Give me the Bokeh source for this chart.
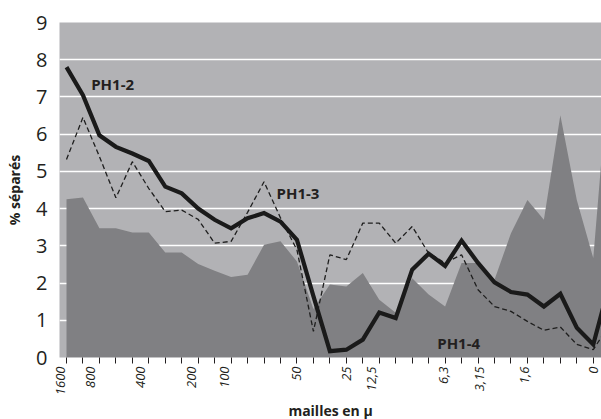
import math
from bokeh.plotting import figure
from bokeh.models import FixedTicker, Range1d, ColumnDataSource, Title
from bokeh.embed import file_html
from bokeh.resources import INLINE
from bokeh.core.properties import value

# ---- data ----
idx = list(range(34))
ph1_2 = [7.80, 7.05, 5.97, 5.66, 5.48, 5.28, 4.59, 4.41, 4.00, 3.70, 3.47, 3.74,
         3.88, 3.65, 3.16, 1.65, 0.17, 0.21, 0.48, 1.21, 1.06, 2.36, 2.79, 2.46,
         3.14, 2.54, 2.02, 1.76, 1.69, 1.37, 1.71, 0.80, 0.35, 2.00]
ph1_3 = [5.32, 6.45, 5.40, 4.29, 5.26, 4.54, 3.92, 3.96, 3.71, 3.07, 3.12, 3.90,
         4.72, 3.75, 2.89, 0.70, 2.76, 2.63, 3.61, 3.61, 3.07, 3.52, 2.80, 2.54,
         2.76, 1.82, 1.37, 1.24, 0.97, 0.73, 0.82, 0.35, 0.21, 0.90]
ph1_4 = [4.25, 4.30, 3.47, 3.47, 3.36, 3.36, 2.82, 2.82, 2.51, 2.33, 2.16, 2.22,
         3.03, 3.12, 2.58, 1.30, 1.96, 1.91, 2.27, 1.55, 1.20, 2.13, 1.69, 1.37,
         2.54, 2.54, 2.09, 3.34, 4.23, 3.70, 6.51, 4.23, 2.67, 8.00]

tick_pos = [-0.38, 1.45, 4.5, 7.6, 9.6, 14, 17, 18.5, 22.9, 25.1, 27.8, 32]
tick_labels = ["1600", "800", "400", "200", "100", "50", "25", "12,5",
               "6,3", "3,15", "1,6", "0"]

series_names = ["PH1-2", "PH1-3", "PH1-4"]
name_x = [1.5, 12.76, 22.52]
name_y = [7.36, 4.41, 0.39]

x_title = "mailles en µ"
y_title = "% séparés"

FONT = "Open Sans"
TXT = "#231f20"

src = ColumnDataSource(dict(x=idx, a=ph1_2, b=ph1_3, c=ph1_4))

p = figure(width=601, height=419, output_backend="svg", toolbar_location=None,
           x_range=Range1d(-0.425, 32.5), y_range=Range1d(0, 9),
           min_border_top=22, min_border_right=0, min_border_left=59,
           min_border_bottom=61)
p.outline_line_color = None
p.background_fill_color = "#b2b2b5"
p.border_fill_color = "white"

# area
p.varea(x="x", y1=0, y2="c", source=src, fill_color="#808083")
# dashed line
p.line(x="x", y="b", source=src, line_color="#1e1e1e", line_width=1.3,
       line_dash="5 3")
# thick line
p.line(x="x", y="a", source=src, line_color="#1a1a1a", line_width=4.2,
       line_join="miter")

p.text(x=name_x, y=name_y, text=series_names, text_font=value(FONT),
       text_font_style="bold", text_font_size="15px", text_color=TXT,
       text_baseline="alphabetic", text_align="left")

# grid
p.xgrid.visible = False
p.ygrid.ticker = FixedTicker(ticks=[1, 2, 3, 4, 5, 6, 7, 8])
p.ygrid.grid_line_color = "white"
p.ygrid.grid_line_width = 1.5

# y axis
ya = p.yaxis[0]
ya.ticker = FixedTicker(ticks=list(range(10)))
ya.axis_line_color = None
ya.major_tick_line_color = None
ya.minor_tick_line_color = None
ya.major_tick_out = 0
ya.major_tick_in = 0
ya.major_label_standoff = 12
ya.major_label_text_font = FONT
ya.major_label_text_font_size = "20px"
ya.major_label_text_color = TXT
ya.axis_label = y_title
ya.axis_label_text_font = FONT
ya.axis_label_text_font_style = "bold"
ya.axis_label_text_font_size = "14px"
ya.axis_label_text_color = TXT
ya.axis_label_standoff = 9

# x axis
xa = p.xaxis[0]
xa.ticker = FixedTicker(ticks=tick_pos, minor_ticks=idx)
xa.major_label_overrides = {t: l for t, l in zip(tick_pos, tick_labels)}
xa.axis_line_color = None
xa.major_tick_line_color = None
xa.major_tick_out = 6
xa.major_tick_in = 0
xa.minor_tick_line_color = "#231f20"
xa.minor_tick_line_width = 1
xa.minor_tick_out = 6
xa.minor_tick_in = 0
xa.major_label_orientation = math.pi / 2
xa.major_label_standoff = 3
xa.major_label_text_font = FONT
xa.major_label_text_font_size = "13px"
xa.major_label_text_font_style = "italic"
xa.major_label_text_color = TXT

# x-axis title below the tick labels, shifted right as in the reference
p.add_layout(Title(text=x_title, align="center", offset=20, standoff=0,
                   text_font=FONT, text_font_style="bold",
                   text_font_size="14px", text_color=TXT), "below")

open("out.html", "w").write(file_html(p, INLINE))
